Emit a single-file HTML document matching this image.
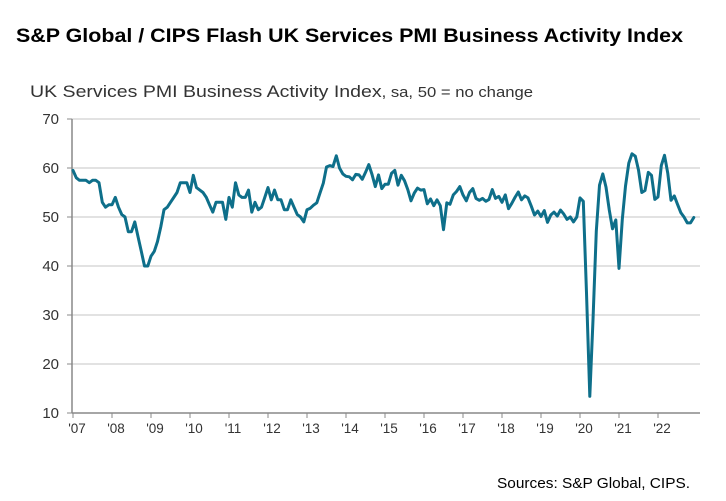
<!DOCTYPE html>
<html><head><meta charset="utf-8"><style>
body{margin:0;background:#fff;width:726px;height:501px;overflow:hidden;font-family:"Liberation Sans",sans-serif}
svg{position:absolute;left:0;top:0}
</style></head><body>
<svg width="726" height="501">
<text x="16" y="42" font-size="19" font-weight="bold" fill="#000" textLength="667" lengthAdjust="spacingAndGlyphs">S&amp;P Global / CIPS Flash UK Services PMI Business Activity Index</text>
<text x="30" y="97" font-size="17" fill="#333" textLength="503" lengthAdjust="spacingAndGlyphs">UK Services PMI Business Activity Index<tspan font-size="14.5">, sa, 50 = no change</tspan></text>
<g id="grid"></g><g id="axes"></g><g id="series"></g>
<text x="497" y="488" font-size="15" fill="#000" textLength="193" lengthAdjust="spacingAndGlyphs">Sources: S&amp;P Global, CIPS.</text>
</svg>
<script>
const yTicks=[10,20,30,40,50,60,70];
const yearLabels=["'07","'08","'09","'10","'11","'12","'13","'14","'15","'16","'17","'18","'19","'20","'21","'22"];
const startYear=2007;
const pmi=[
59.5,58,57.5,57.5,57.5,57,57.5,57.5,57,53,52,52.5,
52.5,54,52,50.5,50,47,47,49,46,43,40,40,
42,43,45,48,51.5,52,53,54,55,57,57,57,
55,58.5,56,55.5,55,54,52.5,51,53,53,53,49.5,
54,52,57,54.5,54,54,55.5,51,53,51.5,52,54,
56,53.5,55.5,53.5,53.5,51.5,51.5,53.5,52,50.5,50,49,
51.5,51.8,52.4,52.9,54.9,56.9,60.2,60.5,60.3,62.5,60,58.8,
58.3,58.2,57.6,58.7,58.6,57.7,59.1,60.7,58.7,56.2,58.6,55.8,
56.7,56.7,58.9,59.5,56.5,58.5,57.4,55.6,53.3,54.9,55.9,55.5,
55.6,52.7,53.7,52.3,53.5,52.3,47.4,52.9,52.6,54.5,55.2,56.2,
54.5,53.3,55,55.8,53.8,53.4,53.8,53.2,53.6,55.6,53.8,54.2,
53,54.5,51.7,52.8,54,55.1,53.5,54.3,53.9,52.2,50.4,51.2,
50.1,51.3,48.9,50.4,51,50.2,51.4,50.6,49.5,50,49,50,
53.9,53.2,34.5,13.4,29,47.1,56.5,58.8,56.1,51.4,47.6,49.4,
39.5,49.5,56.3,61,62.9,62.4,59.6,55,55.4,59.1,58.5,53.6,
54.1,60.5,62.6,58.9,53.4,54.3,52.6,50.9,50,48.8,48.8,49.9];
const X0=73,YW=39,Y0=413,Y1=119;
const xs=m=>X0+m*YW/12;
const ys=v=>Y0-(v-10)*(Y0-Y1)/60;
const NS="http://www.w3.org/2000/svg";
function mk(tag,attrs,parent,txt){const e=document.createElementNS(NS,tag);for(const k in attrs)e.setAttribute(k,attrs[k]);if(txt!=null)e.textContent=txt;document.getElementById(parent).appendChild(e);return e;}
yTicks.forEach(t=>{
 if(t>10){const g=mk('line',{x1:72,x2:700,y1:ys(t),y2:ys(t),stroke:'#d9d9d9','stroke-width':1.5},'grid');
 
 }
 const tk=mk('line',{x1:67,x2:72,y1:ys(t),y2:ys(t),stroke:'#888','stroke-width':1},'axes');
 
 
 const l=mk('text',{x:59,y:ys(t)+5,'text-anchor':'end','font-size':15,fill:'#333'},'axes',t);
 
 
});
const ya=mk('line',{x1:72,x2:72,y1:Y1,y2:Y0,stroke:'#888','stroke-width':1.5},'axes');


const xa=mk('line',{x1:72,x2:700,y1:Y0,y2:Y0,stroke:'#888','stroke-width':1.5},'axes');


yearLabels.forEach((lab,i)=>{
 const x=xs(i*12);
 const tk=mk('line',{x1:x,x2:x,y1:Y0,y2:Y0+5,stroke:'#888','stroke-width':1},'axes');
 
 
 const t=mk('text',{x:x+4,y:Y0+20,'text-anchor':'middle','font-size':13.5,fill:'#333'},'axes',lab);
 
 
});
const d=pmi.map((v,i)=>(i?'L':'M')+xs(i).toFixed(1)+','+ys(v).toFixed(1)).join('');
const p=mk('path',{d:d,fill:'none',stroke:'#0e6f8a','stroke-width':3,'stroke-linejoin':'round','stroke-linecap':'round'},'series');


</script>
</body></html>
